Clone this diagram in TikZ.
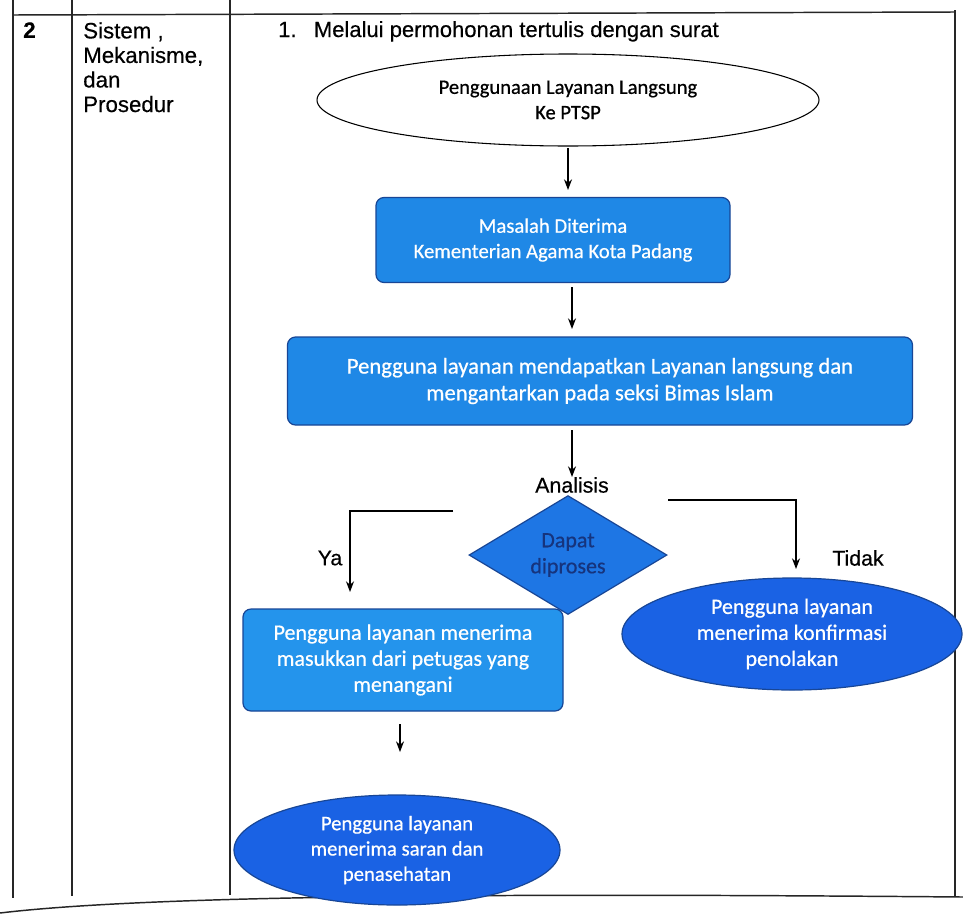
\documentclass[tikz,border=0pt]{standalone}
\usepackage{fontspec}
\setmainfont[FakeBold=0.4]{Liberation Sans}
\newfontfamily\flowfont[FakeBold=0.6]{Carlito}
\usetikzlibrary{shapes.geometric,arrows.meta}
\definecolor{boxblue}{RGB}{31,136,230}
\definecolor{deepblue}{RGB}{26,98,228}
\definecolor{diablue}{RGB}{30,118,228}
\definecolor{lightblue}{RGB}{36,148,236}
\definecolor{edgeblue}{RGB}{24,70,150}
\definecolor{diatext}{RGB}{22,52,125}
\tikzset{
  tline/.style={draw=black!85, line width=1.1pt},
  arr/.style={draw=black, line width=0.9pt, -{Stealth[length=8pt,width=6pt]}},
  flowtext/.style 2 args={font=\flowfont\fontsize{#1}{#2}\selectfont, align=center},
  bluebox/.style={rectangle, rounded corners=6pt, fill=boxblue, draw=edgeblue, line width=0.9pt, text=white, inner sep=0pt},
  blueell/.style={ellipse, fill=deepblue, draw=edgeblue, line width=0.9pt, text=white, inner sep=0pt},
  tabtext/.style={font=\fontsize{16.7}{18.4}\selectfont, anchor=north west, align=left, inner sep=0pt},
  lbl/.style={font=\fontsize{16}{19}\selectfont, inner sep=0pt}
}
\begin{document}
\begin{tikzpicture}[x=0.75pt,y=-0.75pt]
\useasboundingbox[fill=white] (0,0) rectangle (963,914);
% table
\draw[tline] (13,0) -- (13,898);
\draw[tline] (72,0) -- (72,896);
\draw[tline] (230,0) -- (230,895);
\draw[tline] (955,10) -- (955,897);
\draw[tline] (13,15) -- (955,12);
\draw[tline] (0,913) .. controls (150,895) and (500,893) .. (963,897);
\node[tabtext] (num) at (23,22) {\textbf{2}};
\node[tabtext] (col) at (83,22) {Sistem ,\\Mekanisme,\\dan\\Prosedur};
\node[lbl, font=\fontsize{16.5}{19}\selectfont, anchor=base west] (one) at (278,37) {1.\hspace{13pt}Melalui permohonan tertulis dengan surat};
% flow
\node[ellipse, draw=black, line width=0.8pt, fill=white, flowtext={15.4}{19}, minimum width=502*0.75pt, minimum height=92*0.75pt, inner sep=0pt] (e1) at (568,100) {Penggunaan Layanan Langsung\\Ke PTSP};
\node[bluebox, flowtext={15.5}{19}, minimum width=354*0.75pt, minimum height=85*0.75pt] (b2) at (553,240) {Masalah Diterima\\Kementerian Agama Kota Padang};
\node[bluebox, flowtext={17}{20}, minimum width=625*0.75pt, minimum height=88*0.75pt] (b3) at (600,381) {Pengguna layanan mendapatkan Layanan langsung dan\\mengantarkan pada seksi Bimas Islam};
\node[lbl] (an) at (572,485) {Analisis};
\node[diamond, fill=diablue, draw=edgeblue, line width=0.9pt, text=diatext, flowtext={16.5}{19.5}, minimum width=198*0.75pt, minimum height=104*0.75pt, inner sep=0pt] (d) at (568,555) {Dapat\\diproses};
\node[bluebox, fill=lightblue, flowtext={16.5}{19.5}, minimum width=320*0.75pt, minimum height=102*0.75pt] (b4) at (403,660) {Pengguna layanan menerima\\masukkan dari petugas yang\\menangani};
\node[blueell, flowtext={16.5}{19.5}, minimum width=340*0.75pt, minimum height=112*0.75pt] (e2) at (792,634) {Pengguna layanan\\menerima konfirmasi\\penolakan};
\node[blueell, flowtext={15.5}{19}, minimum width=326*0.75pt, minimum height=110*0.75pt] (e3) at (397,850) {Pengguna layanan\\menerima saran dan\\penasehatan};
\node[lbl] (ya) at (330,558) {Ya};
\node[lbl] (tidak) at (858,558) {Tidak};
% connectors
\coordinate (a1s) at (568,148);
\coordinate (a1e) at (568,190);
\draw[arr] (a1s) -- (a1e);
\coordinate (a2s) at (572,287);
\coordinate (a2e) at (572,329);
\draw[arr] (a2s) -- (a2e);
\coordinate (a3s) at (572,430);
\coordinate (a3e) at (572,477);
\draw[arr] (a3s) -- (a3e);
\coordinate (yl) at (453,511);
\coordinate (yend) at (350,592);
\draw[arr] (yl) -| (yend);
\coordinate (tl) at (668,500);
\coordinate (tend) at (796,569);
\draw[arr] (tl) -| (tend);
\coordinate (s1) at (400,724);
\coordinate (s2) at (400,752);
\draw[arr] (s1) -- (s2);
\end{tikzpicture}
\end{document}
